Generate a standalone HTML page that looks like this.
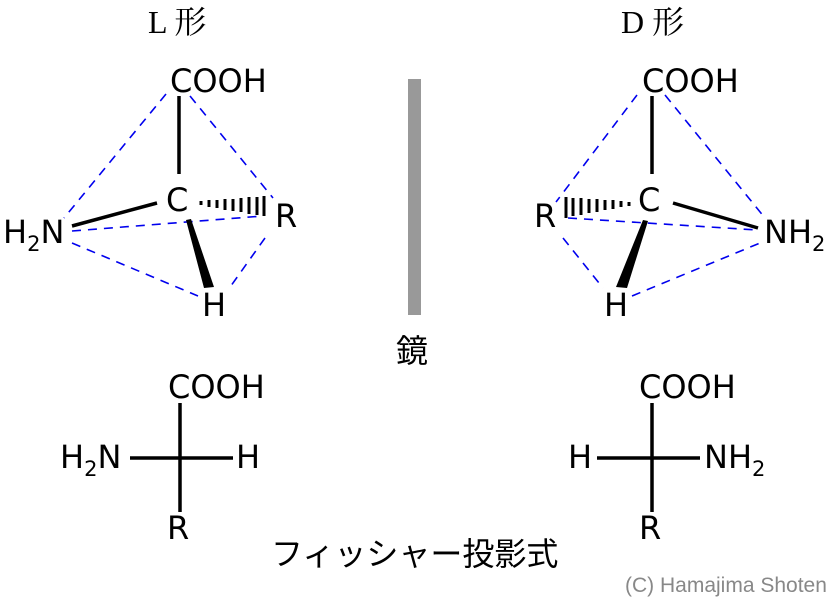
<!DOCTYPE html>
<html><head><meta charset="utf-8"><style>
html,body{margin:0;padding:0;background:#fff;}
svg{display:block;}
text{font-family:"DejaVu Sans","Liberation Sans","Noto Sans CJK JP",sans-serif;fill:#000;}
.t{font-size:32px;}
</style></head><body>
<svg width="830" height="607" viewBox="0 0 830 607" xmlns="http://www.w3.org/2000/svg">
<text x="148" y="33" style="font-family:'Liberation Serif','Noto Serif CJK SC',serif;font-size:32px">L 形</text>
<text x="621" y="33" style="font-family:'Liberation Serif','Noto Serif CJK SC',serif;font-size:32px">D 形</text>

<g stroke="#0000ee" stroke-width="1.6" stroke-dasharray="9,7" fill="none">
<line x1="166" y1="94" x2="64" y2="218"/>
<line x1="190" y1="96" x2="273" y2="198"/>
<line x1="72" y1="231" x2="263" y2="216"/>
<line x1="72" y1="243" x2="198" y2="296"/>
<line x1="265" y1="238" x2="228" y2="290"/>
</g>
<g stroke="#000" stroke-width="3.5">
<line x1="179" y1="96" x2="179" y2="174"/>
<line x1="157" y1="203" x2="72" y2="226"/>
</g>
<polygon points="186,220 191,219 214,287 204,288" fill="#000"/>
<g stroke="#000" stroke-width="3">
<line x1="201" y1="201" x2="201" y2="205"/>
<line x1="209" y1="200" x2="209" y2="207"/>
<line x1="217" y1="200" x2="217" y2="208"/>
<line x1="225" y1="199" x2="225" y2="210"/>
<line x1="233" y1="199" x2="233" y2="211"/>
<line x1="241" y1="198" x2="241" y2="212"/>
<line x1="249" y1="197" x2="249" y2="214"/>
<line x1="257" y1="197" x2="257" y2="215"/>
<line x1="264" y1="196" x2="264" y2="216"/>
</g>
<text class="t" x="170" y="92">COOH</text>
<text class="t" x="166" y="211">C</text>
<text class="t" x="3" y="243">H<tspan font-size="21" dy="8">2</tspan><tspan dy="-8">N</tspan></text>
<text class="t" x="275" y="227">R</text>
<text class="t" x="202" y="316">H</text>

<rect x="408" y="79" width="13" height="236" fill="#999"/>
<text x="396" y="362" style="font-size:32px">鏡</text>

<g stroke="#0000ee" stroke-width="1.6" stroke-dasharray="9,7" fill="none">
<line x1="637" y1="95" x2="556" y2="202"/>
<line x1="665" y1="95" x2="765" y2="218"/>
<line x1="568" y1="218" x2="757" y2="230"/>
<line x1="563" y1="238" x2="603" y2="288"/>
<line x1="632" y1="296" x2="760" y2="243"/>
</g>
<g stroke="#000" stroke-width="3.5">
<line x1="652" y1="96" x2="652" y2="174"/>
<line x1="673" y1="203" x2="758" y2="228"/>
</g>
<polygon points="643,220 648,221 627,288 616,287" fill="#000"/>
<g stroke="#000" stroke-width="3">
<line x1="629" y1="202" x2="629" y2="206"/>
<line x1="621" y1="201" x2="621" y2="207"/>
<line x1="613" y1="200" x2="613" y2="209"/>
<line x1="605" y1="200" x2="605" y2="210"/>
<line x1="597" y1="199" x2="597" y2="212"/>
<line x1="589" y1="199" x2="589" y2="213"/>
<line x1="581" y1="198" x2="581" y2="215"/>
<line x1="573" y1="198" x2="573" y2="216"/>
<line x1="566" y1="197" x2="566" y2="218"/>
</g>
<text class="t" x="642" y="92">COOH</text>
<text class="t" x="638" y="211">C</text>
<text class="t" x="534" y="227">R</text>
<text class="t" x="764" y="243">NH<tspan font-size="21" dy="8">2</tspan></text>
<text class="t" x="604" y="316">H</text>

<g stroke="#000" stroke-width="3.5">
<line x1="180" y1="403" x2="180" y2="512"/>
<line x1="130" y1="458" x2="233" y2="458"/>
<line x1="652" y1="403" x2="652" y2="512"/>
<line x1="597" y1="458" x2="700" y2="458"/>
</g>
<text class="t" x="168" y="398">COOH</text>
<text class="t" x="60" y="468">H<tspan font-size="21" dy="8">2</tspan><tspan dy="-8">N</tspan></text>
<text class="t" x="236" y="468">H</text>
<text class="t" x="167" y="539">R</text>

<text class="t" x="639" y="398">COOH</text>
<text class="t" x="568" y="468">H</text>
<text class="t" x="704" y="468">NH<tspan font-size="21" dy="8">2</tspan></text>
<text class="t" x="639" y="539">R</text>

<text x="271" y="565" style="font-size:32px">フィッシャー投影式</text>
<text x="625" y="592" style="font-family:'Liberation Sans',sans-serif;font-size:21px;fill:#888">(C) Hamajima Shoten</text>
</svg>
</body></html>
